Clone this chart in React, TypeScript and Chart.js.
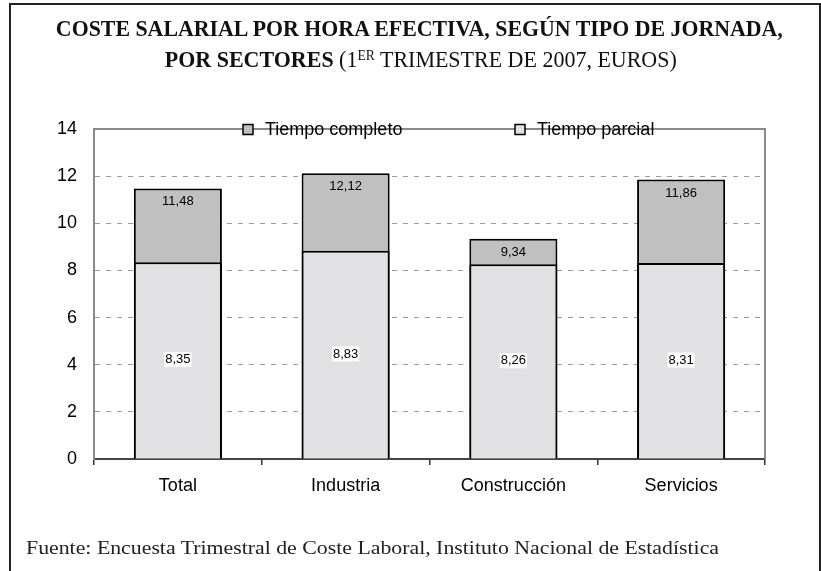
import React, { useEffect, useLayoutEffect, useRef } from 'react';
import { Chart, registerables } from 'chart.js';

Chart.register(...registerables);

// ---- data ----
const categories = ['Total', 'Industria', 'Construcción', 'Servicios'];
const seriesNames = ['Tiempo completo', 'Tiempo parcial'];
const tiempoCompleto = [11.48, 12.12, 9.34, 11.86];
const tiempoParcial = [8.35, 8.83, 8.26, 8.31];
const yMin = 0;
const yMax = 14;
const yStep = 2;
const titleLine1 = 'COSTE SALARIAL POR HORA EFECTIVA, SEGÚN TIPO DE JORNADA,';
const titleLine2Bold = 'POR SECTORES';
const titleLine2Pre = ' (1';
const titleLine2Sup = 'ER';
const titleLine2Post = ' TRIMESTRE DE 2007, EUROS)';
const sourceText = 'Fuente: Encuesta Trimestral de Coste Laboral, Instituto Nacional de Estadística';

const SANS = '"Liberation Sans", Arial, Helvetica, sans-serif';
const SERIF = '"Liberation Serif", "Times New Roman", Times, serif';
const FULL_COLOR = '#C0C0C0';
const PART_COLOR = '#E1E1E3';

const fmt = (v: number) => v.toFixed(2).replace('.', ',');

const plotBorder = {
  id: 'plotBorder',
  beforeDatasetsDraw(chart: any) {
    const { ctx, chartArea: a } = chart;
    ctx.save();
    ctx.strokeStyle = '#8a8a8a';
    ctx.lineWidth = 2;
    ctx.setLineDash([]);
    ctx.beginPath();
    ctx.moveTo(a.left, a.top);
    ctx.lineTo(a.right, a.top);
    ctx.lineTo(a.right, a.bottom);
    ctx.stroke();
    ctx.restore();
  },
};

const valueLabels = {
  id: 'valueLabels',
  afterDatasetsDraw(chart: any) {
    const { ctx } = chart;
    const yScale = chart.scales.y;
    ctx.save();
    ctx.font = `13px ${SANS}`;
    ctx.textAlign = 'center';
    ctx.textBaseline = 'middle';
    chart.data.datasets.forEach((ds: any, di: number) => {
      const meta = chart.getDatasetMeta(di);
      meta.data.forEach((bar: any, i: number) => {
        const v = ds.data[i] as number;
        const text = fmt(v);
        if (di === 0) {
          ctx.fillStyle = '#000';
          ctx.fillText(text, bar.x, bar.y + 13.5);
        } else {
          const cy = yScale.getPixelForValue(v / 2) - 1;
          const w = ctx.measureText(text).width;
          ctx.fillStyle = '#fff';
          ctx.fillRect(bar.x - w / 2 - 1, cy - 7.5, w + 2, 15);
          ctx.fillStyle = '#000';
          ctx.fillText(text, bar.x, cy);
        }
      });
    });
    ctx.restore();
  },
};

const legendInside = {
  id: 'legendInside',
  afterDraw(chart: any) {
    const { ctx, chartArea: a } = chart;
    ctx.save();
    ctx.font = `18px ${SANS}`;
    ctx.textBaseline = 'middle';
    ctx.textAlign = 'left';
    const cy = a.top + 0.5;
    const starts = [a.left + 149, a.left + 421];
    chart.data.datasets.forEach((ds: any, i: number) => {
      const x = starts[i];
      ctx.fillStyle = ds.backgroundColor;
      ctx.fillRect(x, cy - 5, 10, 10);
      ctx.strokeStyle = '#000';
      ctx.lineWidth = 1.5;
      ctx.strokeRect(x, cy - 5, 10, 10);
      ctx.fillStyle = '#000';
      ctx.fillText(ds.label, x + 22, cy + 1);
    });
    ctx.restore();
  },
};

function FitText({ width, origin, children }: { width: number; origin: string; children: any }) {
  const ref = useRef<HTMLSpanElement>(null);
  useLayoutEffect(() => {
    const el = ref.current;
    if (!el) return;
    el.style.transform = 'none';
    const w = el.getBoundingClientRect().width;
    if (w > 0) el.style.transform = `scaleX(${width / w})`;
  }, [width]);
  return (
    <span ref={ref} style={{ display: 'inline-block', whiteSpace: 'nowrap', transformOrigin: origin }}>
      {children}
    </span>
  );
}

export default function App() {
  const canvasRef = useRef<HTMLCanvasElement>(null);

  useEffect(() => {
    const canvas = canvasRef.current;
    if (!canvas) return;
    const chart = new Chart(canvas, {
      type: 'bar',
      data: {
        labels: categories,
        datasets: [
          {
            label: seriesNames[0],
            data: tiempoCompleto,
            backgroundColor: FULL_COLOR,
            borderColor: '#000',
            borderWidth: 2,
            order: 2,
            grouped: false,
            barPercentage: 0.525,
            categoryPercentage: 1,
          } as any,
          {
            label: seriesNames[1],
            data: tiempoParcial,
            backgroundColor: PART_COLOR,
            borderColor: '#000',
            borderWidth: 2,
            order: 1,
            grouped: false,
            barPercentage: 0.525,
            categoryPercentage: 1,
          } as any,
        ],
      },
      options: {
        responsive: false,
        animation: false,
        devicePixelRatio: 1,
        layout: { padding: { left: 0, top: 129, right: 56, bottom: 0 } },
        plugins: {
          legend: { display: false },
          title: { display: false },
          tooltip: { enabled: false },
        },
        scales: {
          x: {
            offset: true,
            grid: {
              offset: true,
              display: true,
              drawOnChartArea: false,
              drawTicks: true,
              tickLength: 6,
              color: '#333',
              lineWidth: 1.5,
            },
            border: { display: true, color: '#444', width: 2 },
            ticks: { font: { family: SANS, size: 18 }, color: '#000', padding: 10 },
            afterFit: (s: any) => {
              s.height = 112;
            },
          },
          y: {
            min: yMin,
            max: yMax,
            ticks: { stepSize: yStep, font: { family: SANS, size: 18 }, color: '#000', padding: 17 },
            grid: { color: '#9a9a9a', lineWidth: 1, drawTicks: false },
            border: { display: true, color: '#8a8a8a', width: 2, dash: [5, 6] },
            afterFit: (s: any) => {
              s.width = 94;
            },
          },
        },
      },
      plugins: [plotBorder, valueLabels, legendInside],
    } as any);
    return () => chart.destroy();
  }, []);

  return (
    <div
      style={{
        position: 'fixed',
        left: 0,
        top: 0,
        width: 821,
        height: 571,
        background: '#fff',
        overflow: 'hidden',
      }}
    >
      <div
        style={{
          position: 'absolute',
          left: 9,
          top: 3,
          width: 808,
          height: 640,
          borderLeft: '2px solid #222',
          borderTop: '2px solid #222',
          borderRight: '2px solid #222',
        }}
      />
      <canvas
        ref={canvasRef}
        width={821}
        height={571}
        style={{ position: 'absolute', left: 0, top: 0, width: 821, height: 571 }}
      />
      <div
        style={{
          position: 'absolute',
          left: 419.5 - 500,
          top: 17.4,
          width: 1000,
          textAlign: 'center',
          fontFamily: SERIF,
          fontSize: 23,
          fontWeight: 'bold',
          lineHeight: 1,
          color: '#111',
        }}
      >
        <FitText width={727} origin="center">
          {titleLine1}
        </FitText>
      </div>
      <div
        style={{
          position: 'absolute',
          left: 421 - 500,
          top: 48,
          width: 1000,
          textAlign: 'center',
          fontFamily: SERIF,
          fontSize: 23,
          fontWeight: 'bold',
          lineHeight: 1,
          color: '#111',
        }}
      >
        <FitText width={512} origin="center">
          <span>{titleLine2Bold}</span>
          <span style={{ fontWeight: 'normal' }}>
            {titleLine2Pre}
            <span style={{ fontSize: '0.62em', position: 'relative', top: '-0.5em' }}>{titleLine2Sup}</span>
            {titleLine2Post}
          </span>
        </FitText>
      </div>
      <div
        style={{
          position: 'absolute',
          left: 26,
          top: 539,
          fontFamily: SERIF,
          fontSize: 18,
          lineHeight: 1,
          color: '#222',
          whiteSpace: 'nowrap',
        }}
      >
        <FitText width={693} origin="left">
          {sourceText}
        </FitText>
      </div>
    </div>
  );
}
